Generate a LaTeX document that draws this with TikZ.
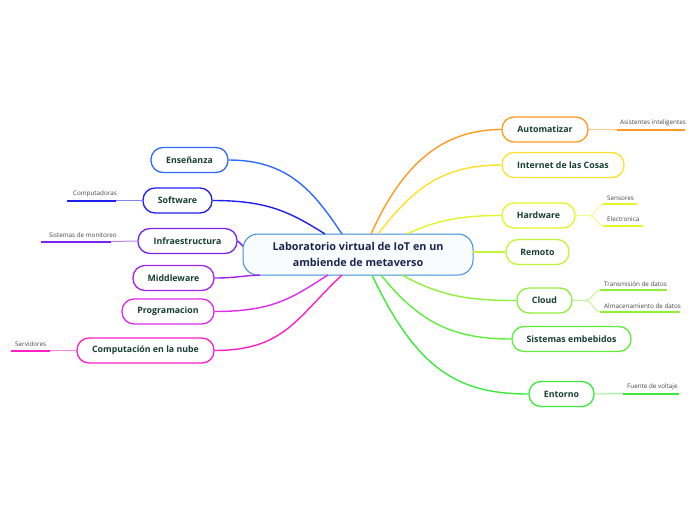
\documentclass[tikz,border=0pt]{standalone}
\usepackage{fontspec}
\setmainfont{Open Sans}
\definecolor{cEns}{HTML}{2E6BFF}
\definecolor{cSoft}{HTML}{1F1FEF}
\definecolor{cInfra}{HTML}{7A22F0}
\definecolor{cMid}{HTML}{A424EE}
\definecolor{cProg}{HTML}{E02BEA}
\definecolor{cComp}{HTML}{FF1FC7}
\definecolor{cAuto}{HTML}{FF9A1F}
\definecolor{cIot}{HTML}{FFE02A}
\definecolor{cHw}{HTML}{E4F526}
\definecolor{cRem}{HTML}{C2F53A}
\definecolor{cCloud}{HTML}{8EF03A}
\definecolor{cSis}{HTML}{5CF03A}
\definecolor{cEnt}{HTML}{3CEB3A}
\definecolor{cCenter}{HTML}{3B8ED8}
\definecolor{txtTopic}{HTML}{173F33}
\definecolor{txtCenter}{HTML}{1A2550}
\definecolor{txtSub}{HTML}{444444}
\tikzset{
  topic/.style={draw=#1, line width=1.3pt, fill=white, rounded corners=12pt,
    minimum height=25pt, inner sep=0pt, text=txtTopic,
    font=\fontsize{8.8}{10}\selectfont\bfseries},
  conn/.style={draw=#1, line width=1.4pt},
  thinconn/.style={draw=#1!55, line width=1pt},
  subline/.style={draw=#1, line width=2pt},
  sublabel/.style={text=txtSub, font=\fontsize{6.3}{7}\selectfont, inner sep=1pt},
}
\begin{document}
\begin{tikzpicture}[x=1pt,y=-1pt]
\useasboundingbox (0,0) rectangle (696,520);
% central node
\node[draw=cCenter, line width=1pt, fill=cCenter!3, rounded corners=15pt,
  minimum width=230pt, minimum height=41pt, inner sep=0pt, align=center,
  text=txtCenter, font=\fontsize{10.8}{15.5}\selectfont\bfseries]
  (c) at (358,254.5) {Laboratorio virtual de IoT en un\\ambiende de metaverso};
% attachment points on central node
\coordinate (cEnsA) at (342,234);
\coordinate (cSoftA) at (325,234);
\coordinate (cInfraA) at (243,246);
\coordinate (cMidA) at (260,275);
\coordinate (cProgA) at (328,275);
\coordinate (cCompA) at (342,275);
\coordinate (cAutoA) at (371,234);
\coordinate (cIotA) at (378,234);
\coordinate (cHwA) at (407,234);
\coordinate (cRemA) at (473,252);
\coordinate (cCloudA) at (402,275);
\coordinate (cSisA) at (381,275);
\coordinate (cEntA) at (372,275);
% left topics
\node[topic=cEns, minimum width=77pt] (ens) at (189.5,160) {Enseñanza};
\node[topic=cSoft, minimum width=69pt] (soft) at (177.5,200.5) {Software};
\node[topic=cInfra, minimum width=99pt] (infra) at (187.5,241) {Infraestructura};
\node[topic=cMid, minimum width=81pt] (mid) at (173.5,278) {Middleware};
\node[topic=cProg, minimum width=92pt] (prog) at (168,311.5) {Programacion};
\node[topic=cComp, minimum width=137pt] (comp) at (145.5,350.5) {Computación en la nube};
% right topics
\node[topic=cAuto, minimum width=86pt] (auto) at (545,129.5) {Automatizar};
\node[topic=cIot, minimum width=122pt] (iot) at (563,165) {Internet de las Cosas};
\node[topic=cHw, minimum width=73pt] (hw) at (538.5,215.5) {Hardware};
\node[topic=cRem, minimum width=63pt] (rem) at (537.5,252) {Remoto};
\node[topic=cCloud, minimum width=55pt] (cloud) at (544.5,300.5) {Cloud};
\node[topic=cSis, minimum width=119pt] (sis) at (571.5,339) {Sistemas embebidos};
\node[topic=cEnt, minimum width=65pt] (ent) at (561.5,394) {Entorno};
% connectors left
\draw[conn=cEns] (ens.east) .. controls +(60,0) and +(-28,-42) .. (cEnsA);
\draw[conn=cSoft] (soft.east) .. controls +(55,0) and +(-35,-22) .. (cSoftA);
\draw[conn=cInfra] (infra.east) -- (cInfraA);
\draw[conn=cMid] (mid.east) .. controls +(20,0) and +(-20,1) .. (cMidA);
\draw[conn=cProg] (prog.east) .. controls +(60,0) and +(-35,22) .. (cProgA);
\draw[conn=cComp] (comp.east) .. controls +(70,0) and +(-45,42) .. (cCompA);
% connectors right
\draw[conn=cAuto] (cAutoA) .. controls +(28,-62) and +(-65,0) .. (auto.west);
\draw[conn=cIot] (cIotA) .. controls +(35,-45) and +(-60,0) .. (iot.west);
\draw[conn=cHw] (cHwA) .. controls +(30,-14) and +(-40,0) .. (hw.west);
\draw[conn=cRem] (cRemA) -- (rem.west);
\draw[conn=cCloud] (cCloudA) .. controls +(40,22) and +(-45,0) .. (cloud.west);
\draw[conn=cSis] (cSisA) .. controls +(40,50) and +(-55,0) .. (sis.west);
\draw[conn=cEnt] (cEntA) .. controls +(45,95) and +(-70,0) .. (ent.west);
% subtopics: Software
\coordinate (sSoftA) at (116,200.5);
\coordinate (sSoftB) at (67,200.5);
\draw[thinconn=cSoft] (soft.west) -- (sSoftA);
\draw[subline=cSoft] (sSoftA) -- (sSoftB);
\node[sublabel, anchor=south east] (lSoft) at (118,198) {Computadoras};
% Infraestructura
\coordinate (sInfA) at (111,241.5);
\coordinate (sInfB) at (41,241.5);
\draw[thinconn=cInfra] (infra.west) -- (sInfA);
\draw[subline=cInfra] (sInfA) -- (sInfB);
\node[sublabel, anchor=south east] (lInf) at (118,239) {Sistemas de monitoreo};
% Computacion
\coordinate (sCompA) at (50,350.5);
\coordinate (sCompB) at (11,350.5);
\draw[thinconn=cComp] (comp.west) -- (sCompA);
\draw[subline=cComp] (sCompA) -- (sCompB);
\node[sublabel, anchor=south west] (lComp) at (14,348) {Servidores};
% Automatizar
\coordinate (sAutoA) at (617,129.5);
\coordinate (sAutoB) at (685,129.5);
\draw[thinconn=cAuto] (auto.east) -- (sAutoA);
\draw[subline=cAuto] (sAutoA) -- (sAutoB);
\node[sublabel, anchor=south west] (lAuto) at (619,127) {Asistentes inteligentes};
% Hardware
\coordinate (hwF) at (590,215.5);
\coordinate (sHw1A) at (603,204);
\coordinate (sHw1B) at (637,204);
\coordinate (sHw2A) at (603,225.5);
\coordinate (sHw2B) at (643,225.5);
\draw[thinconn=cHw] (hw.east) -- (hwF);
\draw[thinconn=cHw] (hwF) .. controls +(6,0) and +(-6,0) .. (sHw1A);
\draw[thinconn=cHw] (hwF) .. controls +(6,0) and +(-6,0) .. (sHw2A);
\draw[subline=cHw] (sHw1A) -- (sHw1B);
\draw[subline=cHw] (sHw2A) -- (sHw2B);
\node[sublabel, anchor=south west] (lHw1) at (606,201.5) {Sensores};
\node[sublabel, anchor=south west] (lHw2) at (606,223) {Electronica};
% Cloud
\coordinate (clF) at (586,300.5);
\coordinate (sCl1A) at (600,290);
\coordinate (sCl1B) at (667,290);
\coordinate (sCl2A) at (600,312);
\coordinate (sCl2B) at (680,312);
\draw[thinconn=cCloud] (cloud.east) -- (clF);
\draw[thinconn=cCloud] (clF) .. controls +(6,0) and +(-6,0) .. (sCl1A);
\draw[thinconn=cCloud] (clF) .. controls +(6,0) and +(-6,0) .. (sCl2A);
\draw[subline=cCloud] (sCl1A) -- (sCl1B);
\draw[subline=cCloud] (sCl2A) -- (sCl2B);
\node[sublabel, anchor=south west] (lCl1) at (603,287.5) {Transmisión de datos};
\node[sublabel, anchor=south west] (lCl2) at (603,309.5) {Almacenamiento de datos};
% Entorno
\coordinate (sEntA) at (623,393.5);
\coordinate (sEntB) at (679,393.5);
\draw[thinconn=cEnt] (ent.east) -- (sEntA);
\draw[subline=cEnt] (sEntA) -- (sEntB);
\node[sublabel, anchor=south west] (lEnt) at (626,391) {Fuente de voltaje};
\end{tikzpicture}
\end{document}
